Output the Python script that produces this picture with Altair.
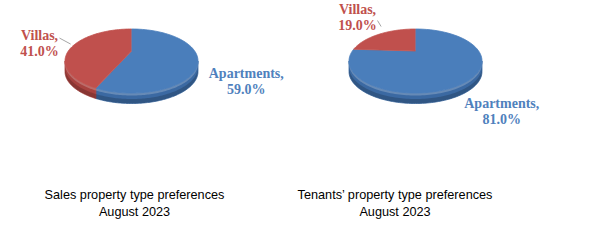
import altair as alt
import pandas as pd

# ---------------- data ----------------
categories = ["Apartments", "Villas"]
sales_values = [59.0, 41.0]
tenant_values = [81.0, 19.0]
panel_titles = ["Sales property type preferences", "Tenants\u2019 property type preferences"]
period = "August 2023"

# ---------------- styles / layout ----------------
top_colors = ["#4A7EBB", "#C0504D"]
side_colors = ["#3B69A2", "#A8423F"]
label_colors = ["#4F81BD", "#C0504D"]

W, H = 604, 247
pie_cx = [131.5, 415.5]
title_cx = [134.5, 395]
CY, RX, RY, DEPTH, LIFT = 61, 66.5, 32, 10.5, 10
N = 90

rows = []
for p, vals in enumerate([sales_values, tenant_values]):
    for i, (c, v) in enumerate(zip(categories, vals)):
        rows.append({"panel": p, "idx": i, "category": c, "value": v, "cx": pie_cx[p]})
df = pd.DataFrame(rows)

tdf = pd.DataFrame({
    "panel": [0, 1],
    "title": [t + "\n" + period for t in panel_titles],
    "tx": title_cx,
})

X = lambda f: alt.X(f, type="quantitative", axis=None,
                    scale=alt.Scale(domain=[0, W], nice=False, zero=False))
Y = lambda f: alt.Y(f, type="quantitative", axis=None, stack=None,
                    scale=alt.Scale(domain=[0, H], reverse=True, nice=False, zero=False))


def col(channel, rng):
    return channel("category:N", scale=alt.Scale(domain=categories, range=rng), legend=None)


base = (
    alt.Chart(df)
    .transform_joinaggregate(total="sum(value)", groupby=["panel"])
    .transform_window(cum="sum(value)", groupby=["panel"],
                      sort=[alt.SortField("idx")], frame=[None, 0])
    .transform_calculate(f0="(datum.cum - datum.value) / datum.total",
                         f1="datum.cum / datum.total")
)

# side walls (front half only)
side_base = (
    base
    .transform_calculate(g0="max(datum.f0, 0.25)", g1="min(datum.f1, 0.75)")
    .transform_filter("datum.g1 > datum.g0")
    .transform_calculate(steps=f"sequence(0, {N + 1})")
    .transform_flatten(["steps"], as_=["step"])
    .transform_calculate(phi=f"2*PI*(datum.g0 + (datum.g1 - datum.g0) * datum.step / {N})")
    .transform_calculate(px=f"datum.cx + {RX}*sin(datum.phi)",
                         py=f"{CY} - {RY}*cos(datum.phi)")
    .transform_calculate(py2=f"datum.py + {DEPTH}",
                         hl2="datum.py + 2.5",
                         sh1=f"datum.py + {DEPTH} - 4.5")
)

grp = [alt.Detail("panel:N"), alt.Detail("category:N")]

side = (
    side_base
    .mark_area(interpolate="linear", strokeWidth=0.8)
    .encode(x=X("px"), y=Y("py"), y2="py2:Q",
            color=col(alt.Color, side_colors), stroke=col(alt.Stroke, side_colors),
            detail=grp)
)
side_hl = (
    side_base
    .mark_area(interpolate="linear", color="#FFFFFF", opacity=0.22)
    .encode(x=X("px"), y=Y("py"), y2="hl2:Q", detail=grp)
)
side_sh = (
    side_base
    .mark_area(interpolate="linear", color="#000000", opacity=0.18)
    .encode(x=X("px"), y=Y("sh1"), y2="py2:Q", detail=grp)
)

# top faces
top = (
    base
    .transform_calculate(steps=f"sequence(0, {N + 2})")
    .transform_flatten(["steps"], as_=["step"])
    .transform_calculate(phi=f"2*PI*(datum.f0 + (datum.f1 - datum.f0) * (datum.step - 1) / {N})")
    .transform_calculate(
        px=f"datum.step == 0 ? datum.cx : datum.cx + {RX}*sin(datum.phi)",
        py=f"datum.step == 0 ? {CY - LIFT} : {CY} - {RY}*cos(datum.phi)")
    .mark_line(filled=True, strokeWidth=0.8, interpolate="linear")
    .encode(x=X("px"), y=Y("py"), order="step:Q",
            color=col(alt.Color, top_colors), stroke=col(alt.Stroke, top_colors),
            detail="panel:N")
)

lab_base = (
    base
    .transform_calculate(m="PI*(datum.f0 + datum.f1)")
    .transform_calculate(s="sin(datum.m)", c="cos(datum.m)")
    .transform_calculate(
        rimx=f"datum.cx + {RX}*datum.s",
        rimy=f"{CY} - {RY}*datum.c + (datum.c < 0 ? {DEPTH} : 0)")
    .transform_calculate(
        edgex="datum.rimx + 12*datum.s + 5*abs(datum.c)",
        ly="datum.rimy - 18*datum.c - 4*(1 - abs(datum.c)) - 0.5",
        txt="datum.category + ',\\n' + format(datum.value, '.1f') + '%'",
        hw="5*(length(datum.category) + 1) - 17")
    .transform_calculate(lx="datum.edgex + (datum.s > 0 ? 1 : -1) * datum.hw",
                         ly1="datum.ly - 8")
)

labels = (
    lab_base
    .mark_text(font="Liberation Serif", fontWeight="bold", fontSize=14,
               lineBreak="\n", lineHeight=16, align="center", baseline="middle")
    .encode(x=X("lx"), y=Y("ly1"), text="txt:N", color=col(alt.Color, label_colors))
)

leaders = (
    lab_base
    .transform_filter("datum.s < 0")
    .transform_calculate(x1="datum.edgex + 2",
                         y1="clamp(datum.rimy - 14, datum.ly - 6, datum.ly + 6)",
                         x2="datum.rimx + 3", y2="datum.rimy - 8")
    .mark_rule(color="#A6A6A6", strokeWidth=1)
    .encode(x=X("x1"), y=Y("y1"), x2="x2:Q", y2="y2:Q")
)

titles = (
    alt.Chart(tdf)
    .mark_text(font="Liberation Sans", fontSize=12.7, lineBreak="\n", lineHeight=17,
               align="center", baseline="middle", color="#000000")
    .encode(x=X("tx"), y=alt.value(195), text="title:N")
)

chart = (
    alt.layer(side, side_hl, side_sh, top, leaders, labels, titles)
    .resolve_scale(color="independent", stroke="independent")
    .properties(width=W, height=H, padding=0, autosize="none")
    .configure_view(stroke=None)
)

chart.save("out.html", embed_options={"renderer": "svg", "actions": False})
